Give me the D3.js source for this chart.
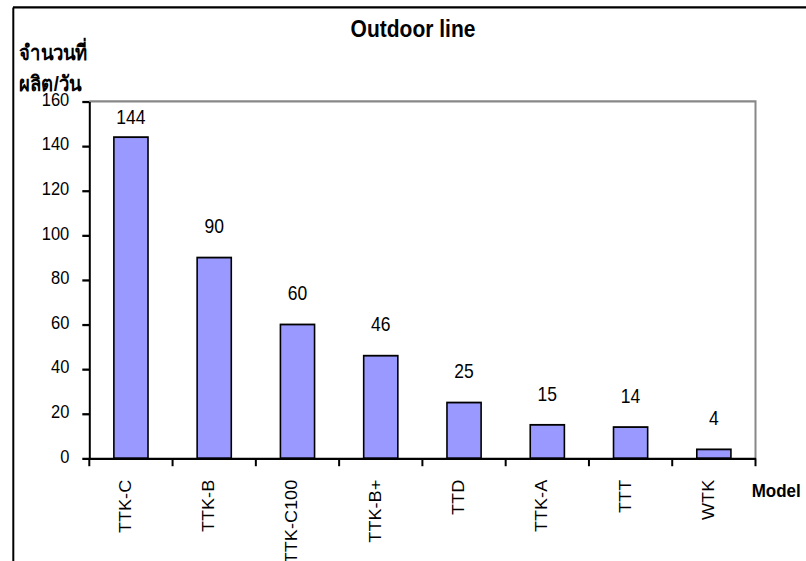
<!DOCTYPE html>
<html lang="th">
<head>
  <meta charset="UTF-8">
  <title>Outdoor line</title>
  <script src="https://d3js.org/d3.v7.min.js"></script>
  <style>
    body { margin: 0; background: #fff; }
    svg { display: block; }
    text { font-family: "Liberation Sans", Arial, sans-serif; fill: #000; }
    .axis text { font-size: 16.5px; }
    .axis path, .axis line { stroke: #000; stroke-width: 2; }
    .bar { fill: #9999ff; stroke: #000; stroke-width: 1.6; }
    .val { font-size: 17.5px; text-anchor: middle; }
  </style>
</head>
<body>
<script>
  const models = ["TTK-C", "TTK-B", "TTK-C100", "TTK-B+", "TTD", "TTK-A", "TTT", "WTK"];
  const perDay = [144, 90, 60, 46, 25, 15, 14, 4];
  const yTicks = [0, 20, 40, 60, 80, 100, 120, 140, 160];

  const W = 806, H = 561;
  const VH = 496; // drawing is stretched vertically like the original image
  const plot = { left: 89.3, right: 755.5, top: 89.7, bottom: 405.2 };

  const svg = d3.select("body").append("svg")
    .attr("width", W).attr("height", H)
    .attr("viewBox", `0 0 ${W} ${VH}`)
    .attr("preserveAspectRatio", "none");

  // outer frame (top and left only)
  svg.append("line").attr("x1", 13).attr("y1", 6.6).attr("x2", 806).attr("y2", 6.6)
    .attr("stroke", "#000").attr("stroke-width", 2);
  svg.append("line").attr("x1", 13.3).attr("y1", 6.6).attr("x2", 13.3).attr("y2", VH)
    .attr("stroke", "#000").attr("stroke-width", 2);

  const x = d3.scaleBand()
    .domain(models)
    .range([plot.left, plot.right])
    .paddingInner(0.59)
    .paddingOuter(0.295);

  const y = d3.scaleLinear()
    .domain([0, 160])
    .range([plot.bottom, plot.top]);

  // plot area border (top + right, grey)
  svg.append("path")
    .attr("d", `M${plot.left},${plot.top}H${plot.right}V${plot.bottom}`)
    .attr("fill", "none").attr("stroke", "#888").attr("stroke-width", 2);

  svg.selectAll(".bar")
    .data(models)
    .join("rect")
    .attr("class", "bar")
    .attr("x", d => x(d))
    .attr("width", x.bandwidth())
    .attr("y", (d, i) => y(perDay[i]))
    .attr("height", (d, i) => y(0) - y(perDay[i]));

  svg.selectAll(".val")
    .data(models)
    .join("text")
    .attr("class", "val")
    .attr("x", d => x(d) + x.bandwidth() / 2)
    .attr("y", (d, i) => Math.max(y(perDay[i]) - 27.4, plot.top + 14) + 6)
    .text((d, i) => perDay[i]);

  // y axis
  svg.append("g")
    .attr("class", "axis")
    .attr("transform", `translate(${plot.left},0)`)
    .call(d3.axisLeft(y).tickValues(yTicks).tickSize(7).tickSizeOuter(0).tickPadding(13))
    .selectAll("text").attr("dy", "0.2em");

  // x axis
  const xAxis = svg.append("g")
    .attr("class", "axis")
    .attr("transform", `translate(0,${plot.bottom})`)
    .call(d3.axisBottom(x).tickSize(0).tickSizeOuter(0));
  xAxis.selectAll("text")
    .attr("transform", "rotate(-90)")
    .attr("text-anchor", "end")
    .attr("x", -19)
    .attr("y", 0)
    .attr("dy", 0)
    .style("font-size", "16px");

  // tick marks between categories
  const bounds = d3.range(models.length + 1).map(i => plot.left + i * x.step());
  xAxis.selectAll(".sep")
    .data(bounds)
    .join("line")
    .attr("class", "sep")
    .attr("x1", d => d).attr("x2", d => d)
    .attr("y1", 0).attr("y2", 7);

  svg.append("text")
    .attr("x", 413).attr("y", 32.7)
    .attr("text-anchor", "middle")
    .style("font-size", "21px").style("font-weight", "bold")
    .text("Outdoor line");

  svg.append("text")
    .attr("x", 19).attr("y", 53)
    .style("font-size", "18.5px").style("font-weight", "bold")
    .text("จำนวนที่");
  svg.append("text")
    .attr("x", 19).attr("y", 80.2)
    .style("font-size", "18.5px").style("font-weight", "bold")
    .text("ผลิต/วัน");

  svg.append("text")
    .attr("x", 751.7).attr("y", 439)
    .style("font-size", "17px").style("font-weight", "bold")
    .text("Model");
</script>
</body>
</html>
